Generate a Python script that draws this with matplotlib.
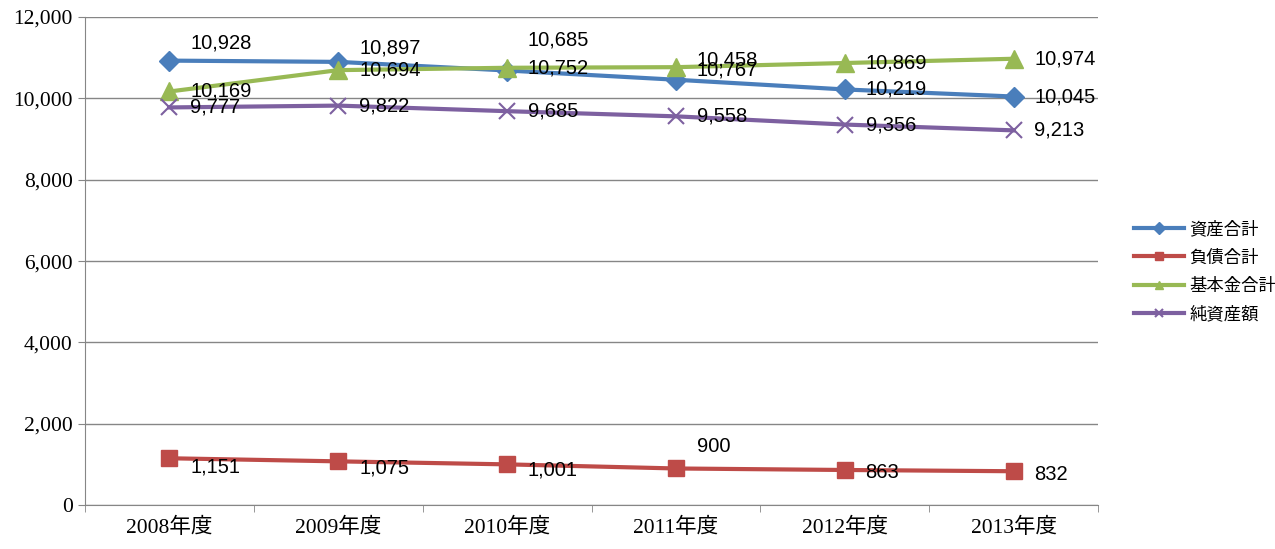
import matplotlib
matplotlib.use('Agg')
import matplotlib.pyplot as plt
from matplotlib.ticker import FuncFormatter

# データ
years = ['2008年度', '2009年度', '2010年度', '2011年度', '2012年度', '2013年度']
shisan = [10928, 10897, 10685, 10458, 10219, 10045]
fusai = [1151, 1075, 1001, 900, 863, 832]
kihonkin = [10169, 10694, 10752, 10767, 10869, 10974]
junshisan = [9777, 9822, 9685, 9558, 9356, 9213]

series_names = ['資産合計', '負債合計', '基本金合計', '純資産額']

# ラベルの位置ずらし (points)
off_shisan = [(15, 13), (15, 10), (15, 22), (15, 14), (15, 0), (15, 0)]
off_fusai = [(15, -6), (15, -5), (15, -4), (15, 16), (15, -2), (15, -2)]
off_kihon = [(15, 0), (15, 0), (15, 0), (15, -2), (15, 0), (15, 0)]
off_jun = [(15, 0), (15, 0), (15, 0), (15, 0), (15, 0), (15, 0)]

plt.rcParams['font.family'] = ['Liberation Serif', 'Noto Sans CJK JP']

fig = plt.figure(figsize=(12.75, 5.49), dpi=100)
ax = fig.add_axes([0.0667, 0.080, 0.7945, 0.889])

x = list(range(len(years)))
estilo = dict(linewidth=3, zorder=3)
ax.plot(x, shisan, color='#4A7EBB', marker='D', markersize=10, label=series_names[0], **estilo)
ax.plot(x, fusai, color='#BE4B48', marker='s', markersize=11, label=series_names[1], **estilo)
ax.plot(x, kihonkin, color='#98B954', marker='^', markersize=13, label=series_names[2], **estilo)
ax.plot(x, junshisan, color='#7D60A0', marker='x', markersize=11, markeredgewidth=1.5,
        label=series_names[3], **estilo)

# データラベル
for vals, offs in [(shisan, off_shisan), (fusai, off_fusai), (kihonkin, off_kihon), (junshisan, off_jun)]:
    for xi, v, o in zip(x, vals, offs):
        ax.annotate(f'{v:,}', (xi, v), xytext=o, textcoords='offset points',
                    ha='left', va='center', fontsize=14.5, family=['Liberation Sans'], zorder=5)

ax.set_xlim(-0.5, 5.5)
ax.set_ylim(0, 12000)
ax.set_yticks(range(0, 12001, 2000))
ax.yaxis.set_major_formatter(FuncFormatter(lambda v, p: f'{int(v):,}'))
ax.grid(axis='y', color='#868686', linewidth=1)
ax.set_axisbelow(True)

ax.set_xticks(x)
ax.set_xticklabels(years)
ax.set_xticks([i - 0.5 for i in range(7)], minor=True)
ax.tick_params(axis='x', which='major', length=0, pad=9, labelsize=15.5)
ax.tick_params(axis='x', which='minor', length=5, color='#868686')
ax.tick_params(axis='y', length=5, color='#868686', labelsize=15.5, pad=4)

for s in ['top', 'right']:
    ax.spines[s].set_visible(False)
for s in ['left', 'bottom']:
    ax.spines[s].set_color('#868686')

leg = fig.legend(loc='center left', bbox_to_anchor=(0.877, 0.505), frameon=False,
                 prop={'family': ['Noto Sans CJK JP'], 'size': 12.5},
                 handlelength=2.9, labelspacing=0.6, handletextpad=0.3)
for h in leg.legend_handles:
    h.set_markersize(6)

fig.savefig('out.png', dpi=100)
